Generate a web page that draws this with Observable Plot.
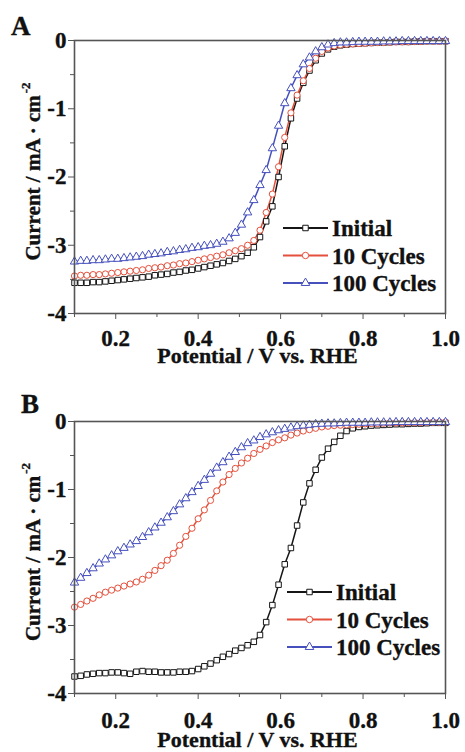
<!DOCTYPE html>
<html>
<head>
<meta charset="utf-8">
<script src="https://cdn.jsdelivr.net/npm/d3@7"></script>
<script src="https://cdn.jsdelivr.net/npm/@observablehq/plot@0.6"></script>
<style>
  html, body { margin: 0; padding: 0; background: #fff; }
  #wrap { position: relative; width: 465px; height: 752px; overflow: hidden; background: #fff; }
  #wrap svg, #wrap svg text, #wrap svg tspan { font-family: "Liberation Serif", "DejaVu Serif", serif !important; font-weight: bold; }
  #wrap svg text { stroke: #111; stroke-width: 0.35px; }
</style>
</head>
<body>
<div id="wrap"></div>
<script>
// ---- data ----
const seriesNames = ["Initial", "10 Cycles", "100 Cycles"];
const seriesColors = ["#161616", "#e4503c", "#4650bd"];
const seriesSymbols = ["square", "circle", "triangle"];

const potential = [0.100,0.115,0.130,0.145,0.160,0.175,0.190,0.205,0.220,0.235,
  0.250,0.265,0.280,0.295,0.310,0.325,0.340,0.355,0.370,0.385,
  0.400,0.415,0.430,0.445,0.460,0.475,0.490,0.505,0.520,0.535,
  0.550,0.565,0.580,0.595,0.610,0.625,0.640,0.655,0.670,0.685,
  0.700,0.715,0.730,0.745,0.760,0.775,0.790,0.805,0.820,0.835,
  0.850,0.865,0.880,0.895,0.910,0.925,0.940,0.955,0.970,0.985,1.000];

// Panel A
const aInitial = [-3.55,-3.55,-3.55,-3.54,-3.54,-3.53,-3.52,-3.51,-3.50,-3.49,
  -3.48,-3.47,-3.46,-3.44,-3.43,-3.42,-3.40,-3.39,-3.37,-3.36,
  -3.34,-3.32,-3.30,-3.28,-3.26,-3.23,-3.20,-3.16,-3.11,-3.03,
  -2.88,-2.65,-2.43,-2.00,-1.55,-1.14,-0.85,-0.62,-0.44,-0.29,
  -0.19,-0.13,-0.09,-0.07,-0.06,-0.05,-0.045,-0.04,-0.035,-0.03,
  -0.03,-0.025,-0.02,-0.02,-0.02,-0.015,-0.015,-0.01,-0.01,-0.01,-0.01];
const aTen = [-3.45,-3.44,-3.44,-3.43,-3.43,-3.42,-3.41,-3.40,-3.39,-3.38,
  -3.37,-3.36,-3.34,-3.33,-3.32,-3.30,-3.29,-3.27,-3.26,-3.24,
  -3.22,-3.20,-3.18,-3.16,-3.14,-3.11,-3.08,-3.05,-3.00,-2.93,
  -2.78,-2.52,-2.25,-1.85,-1.42,-1.06,-0.80,-0.59,-0.41,-0.26,
  -0.16,-0.11,-0.08,-0.065,-0.055,-0.05,-0.045,-0.04,-0.035,-0.03,
  -0.03,-0.025,-0.02,-0.02,-0.02,-0.015,-0.015,-0.01,-0.01,-0.01,-0.01];
const aHundred = [-3.24,-3.23,-3.23,-3.22,-3.22,-3.21,-3.20,-3.20,-3.19,-3.18,
  -3.17,-3.16,-3.14,-3.13,-3.12,-3.10,-3.09,-3.07,-3.06,-3.04,
  -3.03,-3.01,-3.00,-2.98,-2.95,-2.90,-2.82,-2.70,-2.52,-2.34,
  -2.12,-1.90,-1.58,-1.25,-0.92,-0.70,-0.51,-0.35,-0.25,-0.16,
  -0.10,-0.06,-0.04,-0.03,-0.03,-0.025,-0.02,-0.02,-0.02,-0.02,
  -0.015,-0.015,-0.015,-0.01,-0.01,-0.01,-0.01,-0.01,-0.01,-0.01,-0.01];

// Panel B
const bInitial = [-3.75,-3.74,-3.72,-3.71,-3.70,-3.70,-3.69,-3.69,-3.70,-3.71,
  -3.68,-3.67,-3.68,-3.68,-3.69,-3.69,-3.69,-3.68,-3.68,-3.67,
  -3.64,-3.60,-3.56,-3.51,-3.46,-3.42,-3.37,-3.33,-3.29,-3.24,
  -3.14,-2.95,-2.70,-2.40,-2.10,-1.86,-1.53,-1.19,-0.91,-0.71,
  -0.53,-0.40,-0.30,-0.21,-0.14,-0.10,-0.08,-0.07,-0.06,-0.055,
  -0.05,-0.045,-0.04,-0.04,-0.035,-0.03,-0.03,-0.025,-0.02,-0.02,-0.02];
const bTen = [-2.73,-2.69,-2.64,-2.60,-2.55,-2.51,-2.48,-2.45,-2.42,-2.39,
  -2.36,-2.32,-2.26,-2.19,-2.12,-2.04,-1.94,-1.82,-1.69,-1.57,
  -1.43,-1.30,-1.16,-1.02,-0.89,-0.78,-0.69,-0.61,-0.54,-0.47,
  -0.41,-0.36,-0.31,-0.27,-0.24,-0.20,-0.17,-0.14,-0.12,-0.10,
  -0.08,-0.07,-0.06,-0.055,-0.05,-0.045,-0.04,-0.035,-0.03,-0.03,
  -0.025,-0.02,-0.02,-0.02,-0.015,-0.015,-0.015,-0.01,-0.01,-0.01,-0.01];
const bHundred = [-2.37,-2.30,-2.23,-2.16,-2.09,-2.03,-1.97,-1.91,-1.86,-1.81,
  -1.76,-1.70,-1.63,-1.56,-1.49,-1.41,-1.32,-1.22,-1.13,-1.04,
  -0.95,-0.86,-0.77,-0.68,-0.60,-0.52,-0.45,-0.38,-0.32,-0.28,
  -0.23,-0.19,-0.16,-0.13,-0.11,-0.09,-0.07,-0.06,-0.05,-0.04,
  -0.035,-0.03,-0.03,-0.025,-0.02,-0.02,-0.02,-0.02,-0.015,-0.015,
  -0.015,-0.015,-0.01,-0.01,-0.01,-0.01,-0.01,-0.01,-0.01,-0.01,-0.01];

const xTicks = [0.2, 0.4, 0.6, 0.8, 1.0];
const xMinorTicks = [0.1, 0.3, 0.5, 0.7, 0.9];
const yTicks = [0, -1, -2, -3, -4];
const yMinorTicks = [-0.5, -1.5, -2.5, -3.5];
const xTitle = "Potential / V vs. RHE";
const yTitle = "Current / mA · cm";
const yTitleSup = "-2";

// ---- drawing ----
const FONT = "Liberation Serif, DejaVu Serif, serif";
const W = 465, H = 376, ML = 74, MR = 20;

function makePanel(cfg) {
  const data = [];
  seriesNames.forEach((name, k) => potential.forEach((p, i) => data.push({name, p, c: cfg.values[k][i]})));
  const svg = Plot.plot({
    width: W, height: H,
    marginLeft: ML, marginRight: MR, marginTop: cfg.mt, marginBottom: cfg.mb,
    style: {fontFamily: FONT, fontSize: "23px", fontWeight: "bold", background: "transparent", color: "#111", overflow: "visible"},
    x: {domain: [0.1, 1.0]},
    y: {domain: [-4, 0]},
    color: {domain: seriesNames, range: seriesColors},
    symbol: {domain: seriesNames, range: seriesSymbols},
    marks: [
      Plot.axisX({ticks: xMinorTicks, tickSize: 4, tickFormat: () => "", label: null, stroke: "#555"}),
      Plot.axisX({ticks: xTicks, tickSize: 6, tickPadding: cfg.xpad, tickFormat: d => d.toFixed(1), label: null, stroke: "#555"}),
      Plot.axisY({ticks: yMinorTicks, tickSize: 4, tickFormat: () => "", label: null, stroke: "#555"}),
      Plot.axisY({ticks: yTicks, tickSize: 6, tickPadding: 2, tickFormat: d => String(d), label: null, stroke: "#555"}),
      Plot.line(data, {x: "p", y: "c", z: "name", stroke: "name", strokeWidth: 1.5}),
      Plot.dot(data, {x: "p", y: "c", symbol: "name", stroke: "name", fill: "white", r: 3.1, strokeWidth: 1}),
      Plot.frame({stroke: "#555", strokeWidth: 1.6})
    ]
  });
  svg.style.position = "absolute";
  svg.style.left = "0px";
  svg.style.top = cfg.top + "px";
  document.getElementById("wrap").appendChild(svg);

  const s = d3.select(svg);
  // panel letter
  s.append("text").attr("x", cfg.letterX).attr("y", cfg.letterY).attr("text-anchor", "start")
    .attr("font-size", 27).attr("fill", "#111").text(cfg.letter);
  // x title
  s.append("text").attr("x", (ML + W - MR) / 2 - 2).attr("y", cfg.xTitleY)
    .attr("text-anchor", "middle").attr("font-size", 22).attr("fill", "#111").text(xTitle);
  // y title with superscript
  const cy = (cfg.mt + H - cfg.mb) / 2 - 5;
  const yt = s.append("text").attr("transform", `translate(40,${cy}) rotate(-90)`)
    .attr("text-anchor", "middle").attr("font-size", 21).attr("fill", "#111");
  yt.append("tspan").text(yTitle);
  yt.append("tspan").attr("font-size", 13).attr("dy", "-0.75em").attr("dx", 2).text(yTitleSup);

  // legend
  const sym = d3.symbol();
  const symTypes = [d3.symbolSquare, d3.symbolCircle, d3.symbolTriangle];
  const symSizes = [30, 32, 32];
  seriesNames.forEach((name, k) => {
    const ly = cfg.legY + k * 27.5;
    s.append("line").attr("x1", cfg.legX).attr("x2", cfg.legX + 45).attr("y1", ly).attr("y2", ly)
      .attr("stroke", seriesColors[k]).attr("stroke-width", 2);
    s.append("path").attr("d", sym.type(symTypes[k]).size(symSizes[k])())
      .attr("transform", `translate(${cfg.legX + 22.5},${ly})`)
      .attr("fill", "white").attr("stroke", seriesColors[k]).attr("stroke-width", 1);
    s.append("text").attr("x", cfg.legX + 49).attr("y", ly).attr("dy", "0.35em")
      .attr("text-anchor", "start").attr("font-size", 23)
      .attr("fill", "#111").text(name);
  });
}

makePanel({letter: "A", letterX: 11, letterY: 35, top: 0, mt: 40, mb: 63, xpad: 10,
  values: [aInitial, aTen, aHundred], xTitleY: 363, legX: 283, legY: 228});
makePanel({letter: "B", letterX: 21, letterY: 37, top: 376, mt: 45, mb: 59, xpad: 12,
  values: [bInitial, bTen, bHundred], xTitleY: 371, legX: 287, legY: 216});
</script>
</body>
</html>
